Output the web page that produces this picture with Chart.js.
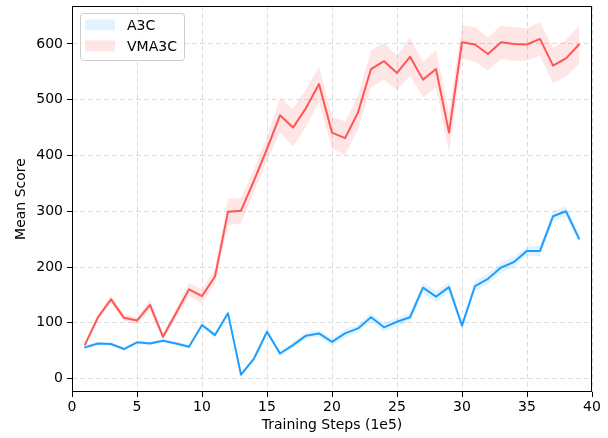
<!DOCTYPE html>
<html>
<head>
<meta charset="utf-8">
<script src="https://cdn.jsdelivr.net/npm/chart.js@4.4.0/dist/chart.umd.min.js"></script>
<style>
  html, body { margin: 0; padding: 0; background: #fff; }
</style>
</head>
<body>
<canvas id="chart" width="608" height="438"></canvas>
<script>
// training steps (1e5)
const steps = [1, 2, 3, 4, 5, 6, 7, 8, 9, 10, 11, 12, 13, 14, 15, 16, 17, 18, 19, 20,
  21, 22, 23, 24, 25, 26, 27, 28, 29, 30, 31, 32, 33, 34, 35, 36, 37, 38, 39];

const a3cMean = [56, 63, 62, 53, 65, 63, 68, 63, 57, 96, 78, 117, 7, 36, 84, 45, 60, 77, 81, 66,
  81, 90, 110, 92, 102, 110, 163, 147, 164, 95, 166, 179, 199, 209, 229, 229, 291, 300, 251];
const a3cStd = [3, 3, 3, 3, 3, 3, 3, 3, 3, 4, 4, 4, 3, 4, 5, 5, 5, 6, 6, 6,
  8, 7, 8, 8, 8, 8, 10, 10, 9, 6, 10, 9, 9, 9, 8, 10, 8, 9, 8];

const vma3cMean = [61, 110, 142, 109, 104, 132, 75, 117, 160, 148, 183, 299, 301, 355, 412, 472, 450, 485, 528, 441,
  431, 477, 555, 569, 548, 577, 536, 555, 441, 603, 599, 582, 603, 600, 599, 609, 561, 574, 599];
const vma3cStd = [4, 5, 7, 6, 6, 10, 6, 8, 12, 12, 12, 24, 23, 20, 20, 31, 34, 34, 31, 29,
  30, 30, 33, 33, 31, 34, 32, 33, 36, 30, 31, 29, 30, 30, 29, 30, 32, 33, 34];

const xTicks = [0, 5, 10, 15, 20, 25, 30, 35, 40];
const yTicks = [0, 100, 200, 300, 400, 500, 600];

const legendNames = ['A3C', 'VMA3C'];
const lineColors = ['#1e9fff', '#ff5555'];
const bandColors = ['rgba(30, 160, 255, 0.12)', 'rgba(255, 85, 85, 0.15)'];

const pts = (vals) => steps.map((s, i) => ({ x: s, y: vals[i] }));
const lower = (m, sd) => pts(m.map((v, i) => v - sd[i]));
const upper = (m, sd) => pts(m.map((v, i) => v + sd[i]));

const font = { family: '"DejaVu Sans", sans-serif', size: 14 };

const lineSet = (label, data, color, order) => ({
  label, data, borderColor: color, borderWidth: 2, pointRadius: 0,
  fill: false, tension: 0, order, borderJoinStyle: 'round', borderCapStyle: 'round'
});
const bandSet = (data, fill, color, order) => ({
  data, borderWidth: 0, borderColor: 'transparent', pointRadius: 0,
  backgroundColor: color, fill, tension: 0, order
});

// frame on all four sides + legend in the upper left, matplotlib style
const framePlugin = {
  id: 'frame',
  afterDraw(chart) {
    const { ctx, chartArea: a } = chart;
    ctx.save();
    ctx.strokeStyle = '#000';
    ctx.lineWidth = 1;
    ctx.strokeRect(a.left + 0.5, a.top + 0.5, a.right - a.left - 1, a.bottom - a.top - 1);

    // legend box
    const bx = 80.5, by = 13.5, bw = 104, bh = 47;
    ctx.beginPath();
    ctx.roundRect(bx, by, bw, bh, 3);
    ctx.fillStyle = 'rgba(255,255,255,0.8)';
    ctx.fill();
    ctx.strokeStyle = '#cccccc';
    ctx.stroke();
    ctx.font = '14px "DejaVu Sans", sans-serif';
    ctx.textBaseline = 'middle';
    legendNames.forEach((name, i) => {
      const cy = 25 + i * 21;
      ctx.fillStyle = bandColors[i];
      ctx.fillRect(85, cy - 5.5, 30, 11);
      ctx.fillStyle = '#000';
      ctx.fillText(name, 127, cy + 1);
    });
    ctx.restore();
  }
};

new Chart(document.getElementById('chart'), {
  type: 'line',
  data: {
    datasets: [
      lineSet(legendNames[0], pts(a3cMean), lineColors[0], 1),
      lineSet(legendNames[1], pts(vma3cMean), lineColors[1], 0),
      bandSet(lower(a3cMean, a3cStd), false, bandColors[0], 3),
      bandSet(upper(a3cMean, a3cStd), 2, bandColors[0], 3),
      bandSet(lower(vma3cMean, vma3cStd), false, bandColors[1], 2),
      bandSet(upper(vma3cMean, vma3cStd), 4, bandColors[1], 2)
    ]
  },
  options: {
    responsive: false,
    devicePixelRatio: 1,
    animation: false,
    layout: { padding: { top: 6, right: 16, left: 0, bottom: 0 } },
    plugins: { legend: { display: false }, tooltip: { enabled: false } },
    scales: {
      x: {
        type: 'linear', min: 0, max: 40,
        afterFit: s => { s.height = 46; },
        afterBuildTicks: s => { s.ticks = xTicks.map(v => ({ value: v })); },
        ticks: { color: '#000', font, padding: 2, maxRotation: 0 },
        grid: { color: '#dddddd', tickColor: '#000', tickLength: 5, tickWidth: 1 },
        border: { display: false, dash: [5, 3] },
        title: { display: true, text: 'Training Steps (1e5)', color: '#000', font, padding: { top: 0, bottom: 4 } }
      },
      y: {
        type: 'linear', min: -24, max: 668,
        afterFit: s => { s.width = 72; s.paddingTop = 0; s.paddingBottom = 0; },
        afterBuildTicks: s => { s.ticks = yTicks.map(v => ({ value: v })); },
        ticks: { color: '#000', font, padding: 4 },
        grid: { color: '#dddddd', tickColor: '#000', tickLength: 5, tickWidth: 1 },
        border: { display: false, dash: [5, 3] },
        title: { display: true, text: 'Mean Score', color: '#000', font, padding: { top: 13, bottom: 0 } }
      }
    }
  },
  plugins: [framePlugin]
});
</script>
</body>
</html>
